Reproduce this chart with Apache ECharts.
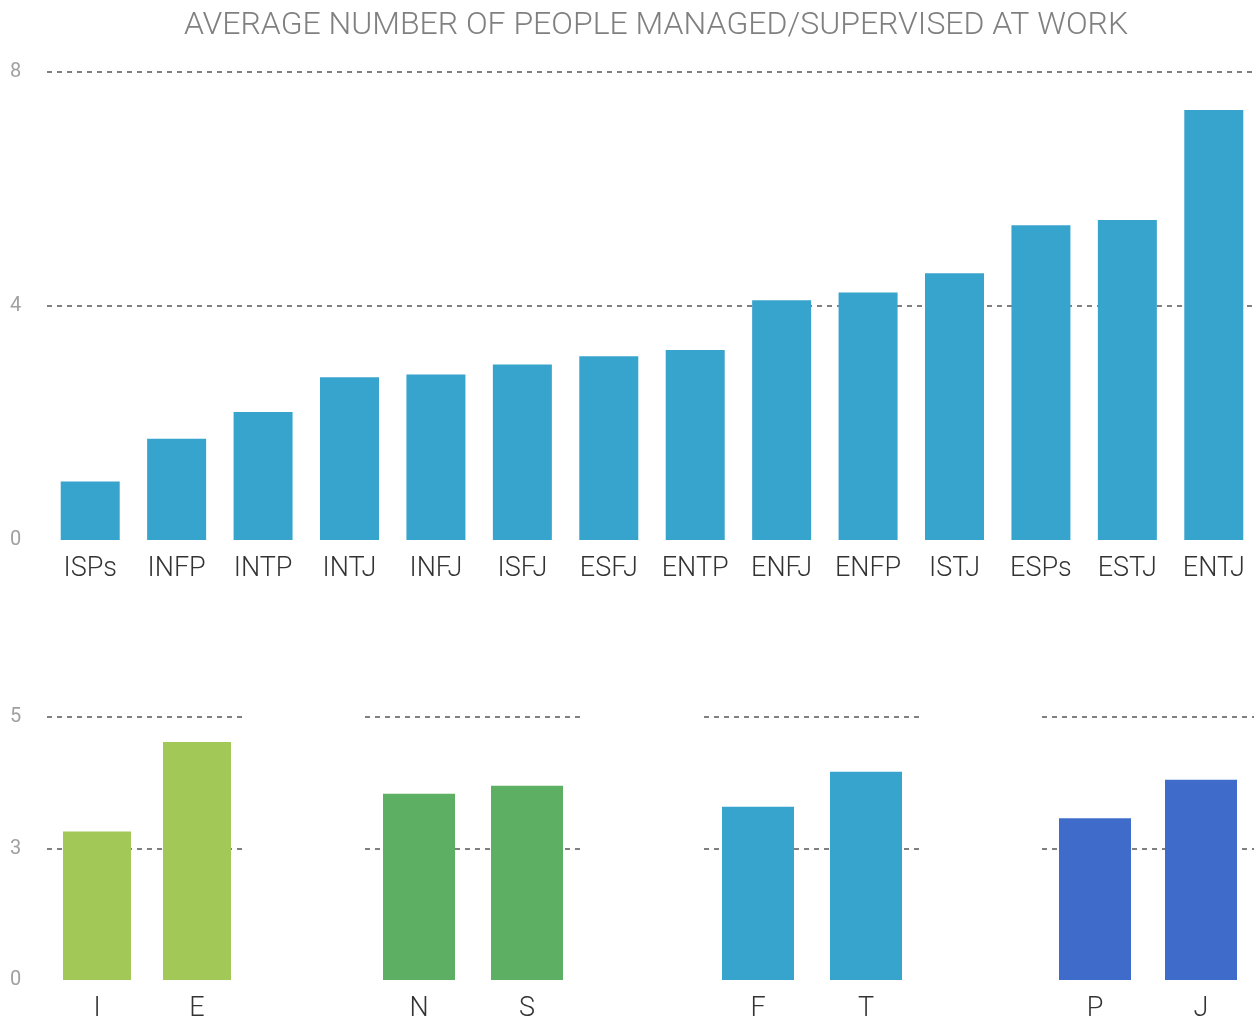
<!DOCTYPE html>
<html>
<head>
<meta charset="utf-8">
<title>Average number of people managed</title>
<script src="https://cdn.jsdelivr.net/npm/echarts@6/dist/echarts.min.js"></script>
<style>
  html, body { margin: 0; padding: 0; background: #fff; }
  #chart { width: 1254px; height: 1020px; }
</style>
</head>
<body>
<div id="chart"></div>
<script>
// data
const types = ['ISPs', 'INFP', 'INTP', 'INTJ', 'INFJ', 'ISFJ', 'ESFJ', 'ENTP', 'ENFJ', 'ENFP', 'ISTJ', 'ESPs', 'ESTJ', 'ENTJ']
const typeValues = [1.0, 1.73, 2.19, 2.78, 2.83, 3.0, 3.14, 3.25, 4.1, 4.23, 4.56, 5.38, 5.47, 7.35]
const topTicks = [0, 4, 8]

const pairs = [['I', 'E'], ['N', 'S'], ['F', 'T'], ['P', 'J']]
const pairValues = [[3.39, 5.43], [4.25, 4.43], [3.95, 4.75], [3.69, 4.57]]
const pairColors = ['#a2c858', '#5db063', '#37a4cd', '#3f6ccb']
// the bottom axis is labelled 0 / 3 / 5 at its three lines
const bottomTicks = [0, 3, 6]
const bottomTickLabels = ['0', '3', '5']

const chart = echarts.init(document.getElementById('chart'))

const fontFamily = '"Helvetica Neue", Roboto, "Liberation Sans", sans-serif'
const gridLine = {
  show: true,
  showMinLine: false,
  lineStyle: { color: '#808080', width: 2, type: [5, 5] }
}
const xLabel = { color: '#333', fontSize: 27, fontWeight: 300, fontFamily, margin: 16, interval: 0, hideOverlap: false }
const yLabel = { color: '#a0a0a0', fontSize: 20, fontFamily, align: 'left', margin: 37 }

// grids: top chart + four small ones
const grids = [{ left: 47, top: 72, width: 1210, height: 468, outerBoundsMode: 'none' }]
const pairLefts = [47, 365, 704, 1042]
const pairWidths = [200, 216, 216, 212]
pairLefts.forEach((l, i) => {
  grids.push({ left: l, top: 717, width: pairWidths[i], height: 263, outerBoundsMode: 'none' })
})

const xAxes = [{
  type: 'category',
  gridIndex: 0,
  data: types,
  axisLine: { show: false },
  axisTick: { show: false },
  axisLabel: xLabel
}]
const yAxes = [{
  type: 'value',
  gridIndex: 0,
  min: 0,
  max: 8,
  interval: 4,
  axisLine: { show: false },
  axisTick: { show: false },
  splitLine: gridLine,
  axisLabel: Object.assign({}, yLabel, {
    formatter: v => topTicks.includes(v) ? String(v) : ''
  })
}]

const series = [{
  type: 'bar',
  xAxisIndex: 0,
  yAxisIndex: 0,
  data: typeValues,
  barWidth: 59,
  itemStyle: { color: '#37a4cd' },
  silent: true
}]

pairs.forEach((p, i) => {
  xAxes.push({
    type: 'category',
    gridIndex: i + 1,
    data: p,
    axisLine: { show: false },
    axisTick: { show: false },
    axisLabel: Object.assign({}, xLabel, { margin: 16 })
  })
  yAxes.push({
    type: 'value',
    gridIndex: i + 1,
    min: 0,
    max: 6,
    interval: 3,
    axisLine: { show: false },
    axisTick: { show: false },
    splitLine: gridLine,
    axisLabel: Object.assign({}, yLabel, {
      show: i === 0,
      formatter: v => bottomTickLabels[bottomTicks.indexOf(v)] || ''
    })
  })
  series.push({
    type: 'bar',
    xAxisIndex: i + 1,
    yAxisIndex: i + 1,
    data: pairValues[i],
    barWidth: i === 0 ? 68 : 72,
    itemStyle: { color: pairColors[i] },
    silent: true
  })
})

chart.setOption({
  backgroundColor: '#fff',
  animation: false,
  title: {
    text: 'AVERAGE NUMBER OF PEOPLE MANAGED/SUPERVISED AT WORK',
    left: 651,
    textAlign: 'center',
    top: 5,
    textStyle: { color: '#808080', fontSize: 32, fontWeight: 300, fontFamily }
  },
  grid: grids,
  xAxis: xAxes,
  yAxis: yAxes,
  series: series
})
</script>
</body>
</html>
